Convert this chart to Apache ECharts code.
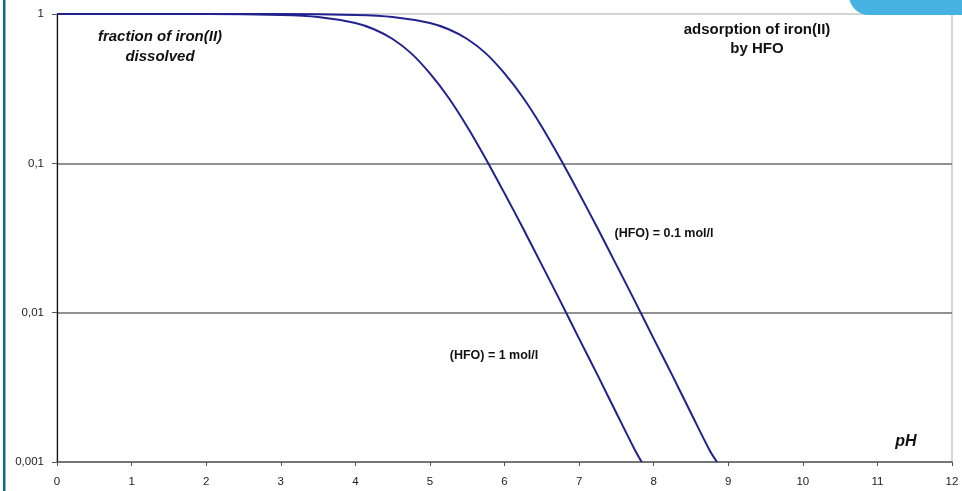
<!DOCTYPE html>
<html>
<head>
<meta charset="utf-8">
<script src="https://cdn.jsdelivr.net/npm/echarts@6/dist/echarts.min.js"></script>
<style>
html,body{margin:0;padding:0;background:#fff;}
#chart{width:962px;height:491px;}
</style>
</head>
<body>
<div id="chart"></div>
<script>
// pH values and fraction of iron(II) dissolved
var phA = [0, 1, 2, 3, 3.5, 4, 4.25, 4.5, 4.75, 5, 5.25, 5.5, 5.75, 6, 6.25, 6.5, 6.75, 7, 7.25, 7.5, 7.75, 7.84];
var hfo1 = [1, 1, 1, 0.985, 0.955, 0.87, 0.79, 0.68, 0.545, 0.4, 0.275, 0.176, 0.107, 0.063, 0.0366, 0.0209, 0.0119, 0.0067, 0.0038, 0.00213, 0.0012, 0.001];
var phB = [0, 1, 2, 3, 4, 4.5, 5, 5.25, 5.5, 5.75, 6, 6.25, 6.5, 6.75, 7, 7.25, 7.5, 7.75, 8, 8.25, 8.5, 8.75, 8.85];
var hfo01 = [1, 1, 1, 1, 0.985, 0.955, 0.87, 0.79, 0.68, 0.545, 0.4, 0.275, 0.176, 0.107, 0.063, 0.0366, 0.0209, 0.0119, 0.0067, 0.0038, 0.00213, 0.0012, 0.001];
var xTicks = [0, 1, 2, 3, 4, 5, 6, 7, 8, 9, 10, 11, 12];
var yTicks = [0.001, 0.01, 0.1, 1];
var yTickLabels = ['0,001', '0,01', '0,1', '1'];

function pairs(xs, ys) { return xs.map(function (x, i) { return [x, ys[i]]; }); }

var chart = echarts.init(document.getElementById('chart'), null, {renderer: 'canvas'});
var FONT = '"Liberation Sans", Arial, sans-serif';
var lineColor = '#22228f';

chart.setOption({
  animation: false,
  backgroundColor: '#ffffff',
  grid: {left: 57, right: 10, top: 14, bottom: 29, show: true, borderColor: '#aaaaaa', borderWidth: 1, backgroundColor: 'transparent'},
  xAxis: {
    type: 'value', min: 0, max: 12, interval: 1,
    axisLine: {lineStyle: {color: '#555555', width: 1.5}},
    axisTick: {show: true, length: 4, lineStyle: {color: '#555555'}},
    axisLabel: {color: '#222222', fontSize: 11.5, fontFamily: FONT, margin: 14,
      formatter: function (v) { return xTicks.indexOf(v) >= 0 ? String(v) : ''; }},
    splitLine: {show: false}
  },
  yAxis: {
    type: 'log', logBase: 10, min: 0.001, max: 1,
    axisLine: {show: true, lineStyle: {color: '#111111', width: 1.2}},
    axisTick: {show: true, length: 5, lineStyle: {color: '#555555'}},
    axisLabel: {color: '#222222', fontSize: 11.5, fontFamily: FONT, margin: 13,
      formatter: function (v) {
        for (var i = 0; i < yTicks.length; i++) { if (Math.abs(Math.log10(v) - Math.log10(yTicks[i])) < 1e-6) return yTickLabels[i]; }
        return '';
      }},
    splitLine: {show: true, showMinLine: false, showMaxLine: false, lineStyle: {color: '#6e6e6e', width: 1.5}},
    minorTick: {show: false}
  },
  series: [
    {name: '(HFO) = 0.1 mol/l', type: 'line', data: pairs(phB, hfo01), smooth: 0.3, showSymbol: false, symbol: 'none',
      lineStyle: {color: lineColor, width: 2}, z: 5},
    {name: '(HFO) = 1 mol/l', type: 'line', data: pairs(phA, hfo1), smooth: 0.3, showSymbol: false, symbol: 'none',
      lineStyle: {color: lineColor, width: 2}, z: 5}
  ],
  graphic: [
    {type: 'rect', left: 3, top: 0, shape: {width: 2.5, height: 491}, style: {fill: '#136c7c'}, z: 10},
    {type: 'rect', shape: {x: 849, y: -25, width: 200, height: 40, r: 22}, style: {fill: '#46b2e2'}, z: 10},
    {type: 'text', x: 160, y: 27, style: {text: 'fraction of iron(II)\ndissolved', fill: '#111', font: 'italic bold 15px ' + FONT, align: 'center', lineHeight: 20}, z: 10},
    {type: 'text', x: 757, y: 20, style: {text: 'adsorption of iron(II)\nby HFO', fill: '#111', font: 'bold 15px ' + FONT, align: 'center', lineHeight: 19}, z: 10},
    {type: 'text', x: 664, y: 227, style: {text: '(HFO) = 0.1 mol/l', fill: '#111', font: 'bold 12.5px ' + FONT, align: 'center'}, z: 10},
    {type: 'text', x: 494, y: 349, style: {text: '(HFO) = 1 mol/l', fill: '#111', font: 'bold 12.5px ' + FONT, align: 'center'}, z: 10},
    {type: 'text', x: 906, y: 434, style: {text: 'pH', fill: '#111', font: 'italic bold 16px ' + FONT, align: 'center'}, z: 10}
  ]
});
</script>
</body>
</html>
